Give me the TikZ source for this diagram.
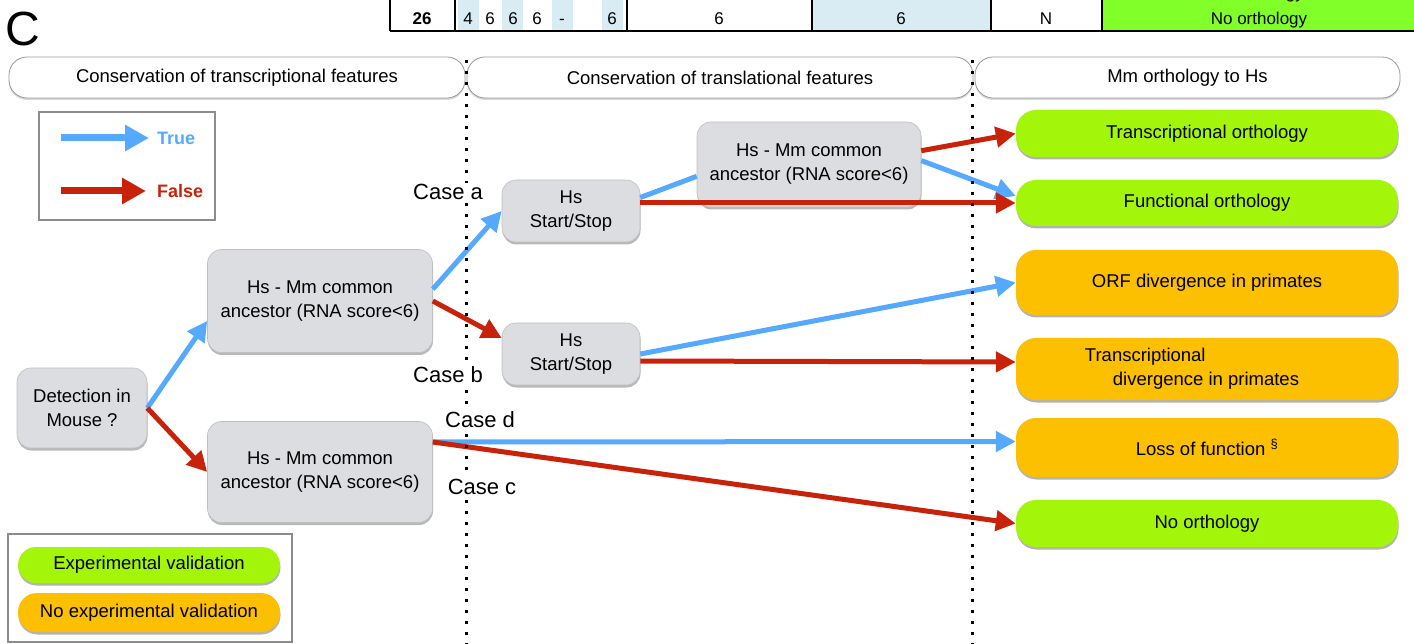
\documentclass[tikz,border=0pt]{standalone}
\usepackage{fontspec}
\setmainfont{Liberation Sans}
\usetikzlibrary{arrows.meta,shadows}

\definecolor{boxgray}{RGB}{220,221,224}
\definecolor{okgreen}{RGB}{163,245,10}
\definecolor{noorange}{RGB}{252,192,0}
\definecolor{trueblue}{RGB}{85,170,255}
\definecolor{falsered}{RGB}{200,35,10}
\definecolor{tblblue}{RGB}{218,236,243}
\definecolor{tblgreen}{RGB}{128,255,40}

\begin{document}
\begin{tikzpicture}[x=1pt,y=-1pt,
  every node/.style={font=\fontsize{18.5}{24}\selectfont},
  headpill/.style={draw=black!40, line width=0.8pt, fill=white, rounded corners=18pt,
    minimum height=41pt, inner sep=0pt,
    drop shadow={opacity=0.3, shadow xshift=0pt, shadow yshift=-2pt}},
  testbox/.style={draw=black!25, line width=0.6pt, fill=boxgray, rounded corners=14pt,
    align=center, inner sep=0pt,
    drop shadow={opacity=0.55, shadow xshift=0.5pt, shadow yshift=-2.5pt}},
  resultbox/.style={rounded corners=20pt, align=center, inner sep=0pt, minimum width=382pt,
    drop shadow={opacity=0.6, shadow xshift=0.5pt, shadow yshift=-2.5pt}},
  okbox/.style={resultbox, fill=okgreen},
  nobox/.style={resultbox, fill=noorange},
  truearrow/.style={draw=trueblue, line width=5pt, -{Triangle[length=20pt,width=20pt]}},
  falsearrow/.style={draw=falsered, line width=5pt, -{Triangle[length=20pt,width=20pt]}},
  caselabel/.style={fill=white, inner sep=1pt, font=\fontsize{22}{26}\selectfont},
  divider/.style={line width=3pt, dash pattern=on 3pt off 8pt},
  tbltext/.style={anchor=base, inner sep=0pt, font=\fontsize{17}{20}\selectfont},
  legendframe/.style={draw=black!45, line width=1.5pt}]
\useasboundingbox (0,0) rectangle (1414,644);

\fill[tblblue] (458,0) rectangle (479,31);
\fill[tblblue] (502,0) rectangle (523,31);
\fill[tblblue] (552,0) rectangle (573,31);
\fill[tblblue] (602,0) rectangle (623,31);
\fill[tblblue] (812,0) rectangle (991,31);
\fill[tblgreen] (1102,0) rectangle (1414,31);
\foreach \x in {390,455,627,812,991,1102}
  \draw[line width=1.3pt] (\x,0) -- (\x,31);
\draw[line width=2pt] (390,31) -- (1414,31);
\node[tbltext] (t26) at (422,25) {\textbf{26}};
\node[tbltext] (tA) at (468,25) {4};
\node[tbltext] (tB) at (490,25) {6};
\node[tbltext] (tC) at (513,25) {6};
\node[tbltext] (tD) at (537,25) {6};
\node[tbltext] (tE) at (562,25) {-};
\node[tbltext] (tF) at (612,25) {6};
\node[tbltext] (tG) at (719,25) {6};
\node[tbltext] (tH) at (901,25) {6};
\node[tbltext] (tI) at (1046,25) {N};
\node[tbltext] (tJ) at (1259,25) {No orthology};
\node[tbltext, anchor=base east] (tK) at (1304,-1) {orthology};

\node[anchor=base, inner sep=0pt, font=\fontsize{48}{50}\selectfont] (panel) at (23,46) {C};

\node[headpill, minimum width=456pt] (headA) at (237,77.5) {Conservation of transcriptional features};
\node[headpill, minimum width=506pt] (headB) at (720,77.5) {Conservation of translational features};
\node[headpill, minimum width=425pt] (headC) at (1187.5,77.5) {Mm orthology to Hs};

\draw[legendframe] (39,112) rectangle (215,220);
\node[anchor=west, inner sep=0pt, text=trueblue, font=\fontsize{18}{22}\selectfont\bfseries] (trueLbl) at (157,138) {True};
\node[anchor=west, inner sep=0pt, text=falsered, font=\fontsize{18}{22}\selectfont\bfseries] (falseLbl) at (157,191) {False};
\coordinate (trueStart) at (61,138);
\coordinate (falseStart) at (61,191);
\draw[draw=trueblue, line width=7pt, -{Triangle[length=24pt,width=25pt]}] (trueStart) -- ([xshift=-8pt]trueLbl.west);
\draw[draw=falsered, line width=7pt, -{Triangle[length=24pt,width=25pt]}] (falseStart) -- ([xshift=-11pt]falseLbl.west);

\draw[legendframe] (8,534) rectangle (292,642);
\node[okbox, minimum width=262pt, minimum height=36pt, rounded corners=18pt] (keyOk) at (149,565) {Experimental validation};
\node[nobox, minimum width=262pt, minimum height=39pt, rounded corners=19pt] (keyNo) at (149,612.5) {No experimental validation};

\node[testbox, minimum width=130pt, minimum height=80pt] (detect) at (82,408) {Detection in\\Mouse ?};
\node[testbox, minimum width=225pt, minimum height=103pt] (hsmmA) at (320,301) {Hs - Mm common\\ancestor (RNA score<6)};
\node[testbox, minimum width=225pt, minimum height=101pt] (hsmmC) at (320,472) {Hs - Mm common\\ancestor (RNA score<6)};
\node[testbox, minimum width=138pt, minimum height=62pt] (startA) at (571,211) {Hs\\Start/Stop};
\node[testbox, minimum width=138pt, minimum height=62pt] (startB) at (571,354) {Hs\\Start/Stop};
\node[testbox, minimum width=224pt, minimum height=85pt] (hsmmB) at (809,164.5) {Hs - Mm common\\ancestor (RNA score<6)};

\node[okbox, minimum height=47pt] (transOrth) at (1207,133.5) {Transcriptional orthology};
\node[okbox, minimum height=46pt] (funcOrth) at (1207,203) {Functional orthology};
\node[nobox, minimum height=65pt] (orfDiv) at (1207,282.5) {ORF divergence in primates};
\node[nobox, minimum height=62pt, align=left] (transDiv) at (1207,369) {Transcriptional\\\hspace*{28pt}divergence in primates\hspace*{30pt}};
\node[nobox, minimum height=59pt] (lossFn) at (1207,447.5) {Loss of function \textsuperscript{§}};
\node[okbox, minimum height=47pt] (noOrth) at (1207,523.5) {No orthology};

\draw[truearrow] (detect.east) -- (hsmmA.190);
\draw[falsearrow] (detect.east) -- (hsmmC.west);
\draw[truearrow] (hsmmA.6) -- (startA.west);
\draw[falsearrow] (hsmmA.east) -- (startB.167);
\draw[draw=trueblue, line width=5pt] (startA.11) -- (hsmmB.186);
\draw[truearrow] (hsmmB.2) -- ([yshift=7pt]funcOrth.west);
\draw[falsearrow] (hsmmB.7) -- (transOrth.west);
\draw[falsearrow] (startA.east |- funcOrth.west) -- (funcOrth.west);
\draw[truearrow] (startB.east) -- (orfDiv.west);
\draw[falsearrow] ([yshift=-7pt]startB.east) -- ([yshift=7pt]transDiv.west);
\draw[truearrow] ([yshift=30pt]hsmmC.east) -- ([yshift=6pt]lossFn.west);
\draw[falsearrow] ([yshift=30pt]hsmmC.east) -- (noOrth.west);

\draw[divider] (466,60) -- (466,644);
\draw[divider] (972,60) -- (972,644);

\node[caselabel] (caseA) at (448,192) {Case a};
\node[caselabel] (caseB) at (448,375) {Case b};
\node[caselabel] (caseD) at (480,420) {Case d};
\node[caselabel] (caseC) at (482,487) {Case c};
\end{tikzpicture}
\end{document}
